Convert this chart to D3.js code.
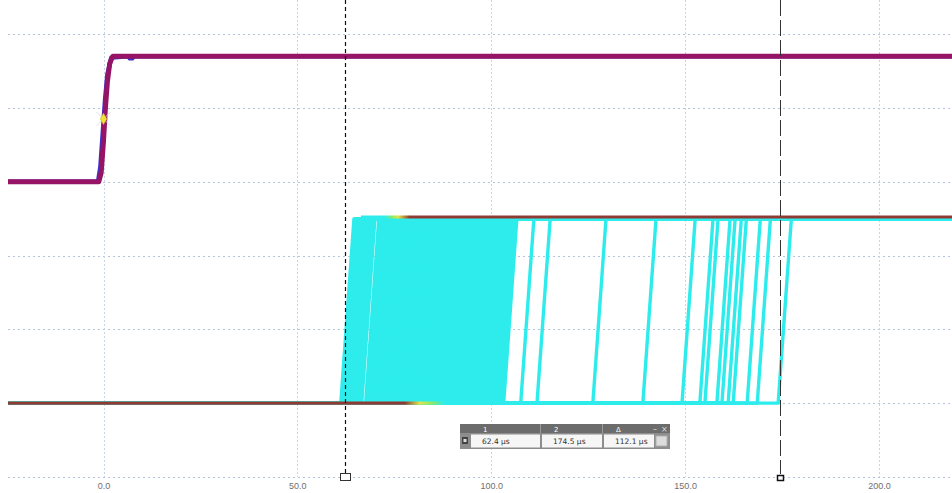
<!DOCTYPE html>
<html lang="en">
<head>
<meta charset="utf-8" />
<title>Persistence capture</title>
<script src="https://d3js.org/d3.v7.min.js"></script>
<style>
  html, body { margin: 0; padding: 0; background: #fff; }
  svg { display: block; font-family: "DejaVu Sans", Verdana, sans-serif; }
  .grid { stroke: #b3c3d8; stroke-width: 1; stroke-dasharray: 2,3; fill: none; }
  .vgrid { stroke: #c4d6e6; stroke-width: 1; stroke-dasharray: 2,2; fill: none; }
  .axis text { fill: #707070; font-size: 9px; }
  .axis path, .axis line { display: none; }
</style>
</head>
<body>
<svg id="chart" width="952" height="493"></svg>
<script>
// time axis (µs)
const tickValues = [0, 50, 100, 150, 200];
// horizontal grid levels (divisions)
const gridLevels = [-3, -2, -1, 0, 1, 2, 3];

// trigger channel (purple) and its blue ghost
const trigT = [-25, -1.2, -0.6, 0.0, 0.5, 1.0, 1.6, 2.4, 220];
const trigV = [1.0, 1.0, 1.12, 1.55, 2.0, 2.35, 2.6, 2.7, 2.7];
const ghostT = [-25, -1.4, -0.8, -0.2, 0.4, 1.0, 2.0, 6.4, 6.8, 7.4, 7.8, 220];
const ghostV = [1.0, 1.0, 1.2, 1.65, 2.1, 2.45, 2.68, 2.7, 2.67, 2.67, 2.7, 2.7];
const trigAt = [0, 1.85];

// persistence channel (cyan): rising edge start times, µs
const edgeTimes = [
  61.2, 61.6, 62.0, 62.3, 62.7, 63.0, 63.4, 63.9, 64.3, 64.8, 65.2, 65.7, 66.2, 66.6,
  67.6, 68.1, 68.6, 69.1, 69.6, 70.1, 70.6, 71.1, 71.6, 72.1, 72.6, 73.1, 73.6, 74.1,
  74.6, 75.1, 75.6, 76.1, 76.6, 77.1, 77.6, 78.1, 78.6, 79.1, 79.6, 80.1, 80.7, 81.2,
  81.8, 82.3, 82.9, 83.4, 84.0, 84.5, 85.1, 85.7, 86.3, 86.9, 87.5, 88.1, 88.7, 89.3,
  89.9, 90.5, 91.1, 91.8, 92.4, 93.0, 93.7, 94.3, 95.0, 95.6, 96.3, 97.0, 97.7, 98.4,
  99.1, 99.8, 100.5, 101.2, 101.9, 102.6, 103.2,
  107.6, 111.8, 126.2, 139.1, 149.2, 153.8, 155.1, 158.2, 159.5, 161.1, 162.4,
  166.0, 168.6, 174.0
];
const riseTime = 3.4;
const lowLevel = -2.0, highLevel = 0.5;

// persistence colour bands along the flat levels (time, colour)
const lowBand = [[-25, "#8e3b33"], [77.7, "#8e3b33"], [81.5, "#e2e24a"], [85.0, "#86ea6a"], [88.0, "#2eecec"]];
const highBand = [[63, "#2eecec"], [72.5, "#2eecec"], [74.5, "#8aea66"], [76.0, "#e2e24a"], [79.0, "#8e3b33"], [220, "#8e3b33"]];

// cursors
const cursors = [62.4, 174.5];
const readoutHeads = ["1", "2", "\u0394"];
const readoutValues = ["62.4 \u00b5s", "174.5 \u00b5s", "112.1 \u00b5s"];

const W = 952, H = 493;
const left = 8, bottom = 477;
const svg = d3.select("#chart");

const x = d3.scaleLinear().domain([0, 200]).range([103.5, 879]);
const y = d3.scaleLinear().domain([-3, 3]).range([477, 34]);

svg.append("defs").append("clipPath").attr("id", "plot")
  .append("rect").attr("x", left).attr("y", 0).attr("width", W - left).attr("height", bottom);

// grid
svg.append("g").selectAll("line").data(gridLevels).join("line")
  .attr("class", "grid")
  .attr("x1", left).attr("x2", W)
  .attr("y1", d => Math.round(y(d)) + 0.5).attr("y2", d => Math.round(y(d)) + 0.5);
svg.append("g").selectAll("line").data(tickValues).join("line")
  .attr("class", "vgrid")
  .attr("x1", d => Math.round(x(d)) + 0.5).attr("x2", d => Math.round(x(d)) + 0.5)
  .attr("y1", 0).attr("y2", bottom);

// axis labels
svg.append("g").attr("class", "axis")
  .attr("transform", `translate(0,${bottom + 2})`)
  .call(d3.axisBottom(x).tickValues(tickValues).tickFormat(d3.format(".1f")).tickSize(0).tickPadding(4));

const plot = svg.append("g").attr("clip-path", "url(#plot)");
const line = d3.line().x(d => x(d[0])).y(d => y(d[1]));

// cyan traces
const traces = edgeTimes.map(t0 => [[-25, lowLevel], [t0, lowLevel], [t0 + riseTime, highLevel], [220, highLevel]]);
plot.append("g").selectAll("path").data(traces).join("path")
  .attr("d", line).attr("fill", "none")
  .attr("stroke", "#2eecec").attr("stroke-width", 3.4).attr("stroke-linejoin", "round");

// persistence colouring of the flat levels
const defs = svg.select("defs");
function band(id, stops) {
  const x0 = x(stops[0][0]), x1 = x(stops[stops.length - 1][0]);
  const g = defs.append("linearGradient").attr("id", id)
    .attr("gradientUnits", "userSpaceOnUse")
    .attr("x1", x0).attr("x2", x1).attr("y1", 0).attr("y2", 0);
  g.selectAll("stop").data(stops).join("stop")
    .attr("offset", d => (x(d[0]) - x0) / (x1 - x0))
    .attr("stop-color", d => d[1]);
  return [stops[0][0], stops[stops.length - 1][0]];
}
const lowSpan = band("lowBand", lowBand);
const highSpan = band("highBand", highBand);
plot.append("path")
  .attr("d", line([[lowSpan[0], lowLevel], [lowSpan[1], lowLevel]]))
  .attr("stroke", "url(#lowBand)").attr("stroke-width", 3.2).attr("fill", "none");
plot.append("path")
  .attr("d", line([[highSpan[0] + riseTime, highLevel + 0.02], [highSpan[1], highLevel + 0.02]]))
  .attr("stroke", "url(#highBand)").attr("stroke-width", 3).attr("fill", "none");

// trigger channel
plot.append("path").datum(d3.zip(ghostT, ghostV))
  .attr("d", line).attr("fill", "none")
  .attr("stroke", "#3a2fd0").attr("stroke-width", 4.5).attr("stroke-linejoin", "round");
plot.append("path").datum(d3.zip(trigT, trigV))
  .attr("d", line).attr("fill", "none")
  .attr("stroke", "#951466").attr("stroke-width", 5).attr("stroke-linejoin", "round");

// trigger marker
const tx = x(trigAt[0]), ty = y(trigAt[1]);
svg.append("path")
  .attr("d", `M${tx - 7},${ty - 7}L${tx + 7},${ty + 7}M${tx - 7},${ty + 7}L${tx + 7},${ty - 7}`)
  .attr("stroke", "#d8d8d8").attr("stroke-width", 0.8);
svg.append("path")
  .attr("d", d3.symbol(d3.symbolDiamond, 36)())
  .attr("transform", `translate(${tx},${ty})`)
  .attr("fill", "#f0e03a").attr("stroke", "#c9b820").attr("stroke-width", 0.6);

// cursors
const c1 = Math.round(x(cursors[0])) + 0.5, c2 = Math.round(x(cursors[1])) + 0.5;
svg.append("line").attr("x1", c1).attr("x2", c1).attr("y1", 0).attr("y2", 473)
  .attr("stroke", "#111").attr("stroke-width", 1.2).attr("stroke-dasharray", "4,3");
svg.append("rect").attr("x", c1 - 5).attr("y", 473.5).attr("width", 10).attr("height", 7)
  .attr("fill", "#fff").attr("stroke", "#333").attr("stroke-width", 1);
svg.append("line").attr("x1", c2).attr("x2", c2).attr("y1", 0).attr("y2", 474)
  .attr("stroke", "#333").attr("stroke-width", 1).attr("stroke-dasharray", "16,4");
svg.append("rect").attr("x", c2 - 3).attr("y", 475.5).attr("width", 6).attr("height", 5)
  .attr("fill", "#fff").attr("stroke", "#111").attr("stroke-width", 1.5);

// cursor readout box
const box = svg.append("g").attr("transform", "translate(460,424)");
box.append("rect").attr("width", 210).attr("height", 25).attr("fill", "#8d8d8d");
box.append("rect").attr("width", 210).attr("height", 9).attr("fill", "#6c6c6c");
const colX = [10, 81, 143];
const colW = [70, 61, 51];
box.selectAll(".sep").data(colX.slice(1)).join("line").attr("class", "sep")
  .attr("x1", d => d - 0.5).attr("x2", d => d - 0.5).attr("y1", 0).attr("y2", 9)
  .attr("stroke", "#9a9a9a");
box.selectAll(".head").data(readoutHeads).join("text").attr("class", "head")
  .attr("x", (d, i) => colX[i] + 13).attr("y", 7.5)
  .attr("fill", "#fff").attr("font-size", 7).text(d => d);
box.append("text").attr("x", 193).attr("y", 7.5).attr("fill", "#ddd").attr("font-size", 8).text("\u2013");
box.append("text").attr("x", 201).attr("y", 7.5).attr("fill", "#ddd").attr("font-size", 8).text("\u00d7");
box.selectAll(".cell").data(readoutValues).join("rect").attr("class", "cell")
  .attr("x", (d, i) => colX[i] + 1).attr("y", 10.5).attr("width", (d, i) => colW[i] - 1).attr("height", 13)
  .attr("fill", "#f6f6f6");
box.selectAll(".val").data(readoutValues).join("text").attr("class", "val")
  .attr("x", (d, i) => colX[i] + 12).attr("y", 20)
  .attr("fill", "#333").attr("font-size", 7.5).text(d => d);
box.append("rect").attr("x", 2).attr("y", 13).attr("width", 6).attr("height", 7).attr("fill", "#444");
box.append("rect").attr("x", 3.5).attr("y", 15).attr("width", 3).attr("height", 3).attr("fill", "#ddd");
box.append("rect").attr("x", 196).attr("y", 12).attr("width", 11).attr("height", 10)
  .attr("fill", "#dcdcdc").attr("stroke", "#b0b0b0");
</script>
</body>
</html>
